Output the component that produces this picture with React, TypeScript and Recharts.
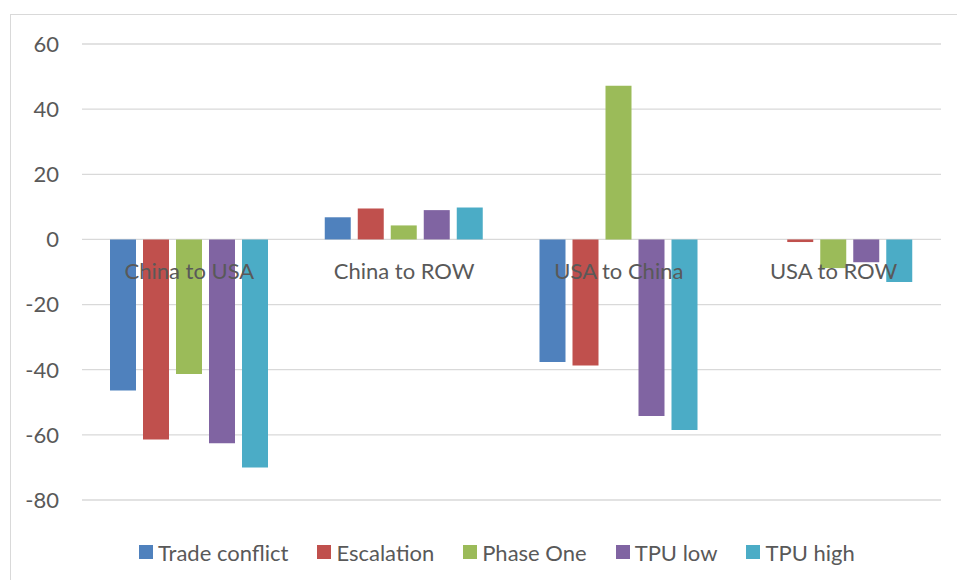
import React from 'react';
import { BarChart, Bar, XAxis, YAxis, CartesianGrid, Legend } from 'recharts';

const categories = ['China to USA', 'China to ROW', 'USA to China', 'USA to ROW'];
const tradeConflict = [-46.4, 6.8, -37.6, 0];
const escalation = [-61.4, 9.5, -38.7, -0.8];
const phaseOne = [-41.3, 4.3, 47.2, -8.8];
const tpuLow = [-62.6, 9.0, -54.2, -7.0];
const tpuHigh = [-70.0, 9.8, -58.5, -13.1];
const yTicks = [-80, -60, -40, -20, 0, 20, 40, 60];

const series = [
  { key: 'tradeConflict', name: 'Trade conflict', color: '#4F81BD' },
  { key: 'escalation', name: 'Escalation', color: '#C0504D' },
  { key: 'phaseOne', name: 'Phase One', color: '#9BBB59' },
  { key: 'tpuLow', name: 'TPU low', color: '#8064A2' },
  { key: 'tpuHigh', name: 'TPU high', color: '#4BACC6' },
];

const data = categories.map((name, i) => ({
  name,
  tradeConflict: tradeConflict[i],
  escalation: escalation[i],
  phaseOne: phaseOne[i],
  tpuLow: tpuLow[i],
  tpuHigh: tpuHigh[i],
}));

const FONT = 'Lato, "Open Sans", sans-serif';
const TEXT = '#595959';
const W = 957;
const H = 580;
const MARGIN = { top: 44, right: 16, left: 0, bottom: 26 };
const PLOT_BOTTOM = 500;
const Y_MIN = yTicks[0];
const Y_MAX = yTicks[yTicks.length - 1];
// pixel row of the zero line, where Excel puts the category labels
const ZERO_Y = MARGIN.top + ((PLOT_BOTTOM - MARGIN.top) * Y_MAX) / (Y_MAX - Y_MIN);

const CategoryTick = (props: any) => {
  const { x, payload } = props;
  return (
    <text x={x} y={ZERO_Y + 32} dy="0.35em" textAnchor="middle" fill={TEXT} fontSize={22} fontFamily={FONT}>
      {payload.value}
    </text>
  );
};

const renderLegend = () => (
  <div style={{ display: 'flex', alignItems: 'center', height: 24, fontFamily: FONT, fontSize: 22, color: TEXT }}>
    {series.map((s) => (
      <div key={s.key} style={{ display: 'flex', alignItems: 'center', marginRight: 29, whiteSpace: 'nowrap' }}>
        <span style={{ width: 14, height: 14, background: s.color, marginRight: 5, display: 'inline-block' }} />
        <span>{s.name}</span>
      </div>
    ))}
  </div>
);

export default function App() {
  return (
    <div style={{ position: 'absolute', left: 0, top: 0, width: W, height: H, overflow: 'hidden', background: '#fff' }}>
      <div
        style={{
          position: 'absolute',
          left: 10,
          top: 14,
          width: 1000,
          height: 700,
          border: '1.5px solid #d9d9d9',
        }}
      />
      <div style={{ position: 'absolute', left: 0, top: 0 }}>
        <BarChart width={W} height={H} data={data} margin={MARGIN} barSize={26} barGap={7}>
          <CartesianGrid vertical={false} stroke="#d9d9d9" strokeWidth={1.3} />
          <YAxis
            domain={[Y_MIN, Y_MAX]}
            ticks={yTicks}
            width={82}
            axisLine={false}
            tickLine={false}
            tickSize={0}
            tickMargin={23}
            tick={{ fill: TEXT, fontSize: 22, fontFamily: FONT }}
          />
          {series.map((s) => (
            <Bar key={s.key} dataKey={s.key} name={s.name} fill={s.color} isAnimationActive={false} />
          ))}
          <XAxis dataKey="name" axisLine={false} tickLine={false} height={30} tick={<CategoryTick />} />
          <Legend
            verticalAlign="bottom"
            content={renderLegend}
            wrapperStyle={{ top: 540, bottom: 'auto', left: 139, width: 'auto' }}
          />
        </BarChart>
      </div>
    </div>
  );
}
